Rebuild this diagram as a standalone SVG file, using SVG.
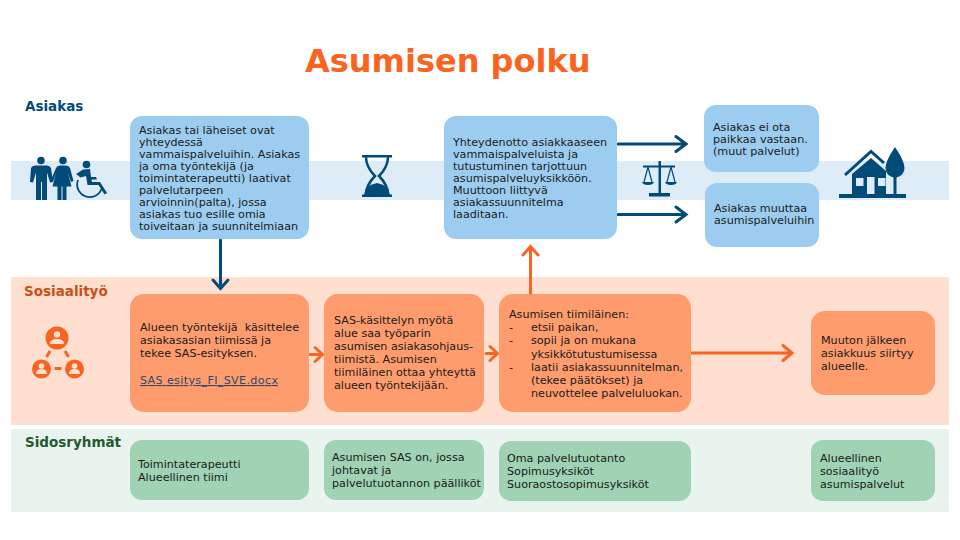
<svg xmlns="http://www.w3.org/2000/svg" width="960" height="540" viewBox="0 0 960 540">
<style>
text{font-family:"DejaVu Sans",Verdana,sans-serif;font-size:11.15px;fill:#1a1a1a}
.h{font-size:13.5px;font-weight:700}
.blue{fill:#9ccdf0}.or{fill:#ff9c6e}.gr{fill:#a0d2b4}
.a{fill:none;stroke-width:3;stroke-linejoin:miter;stroke-linecap:round}
.d{stroke:#004b78}.o{stroke:#fa6420}
.ic{fill:#004b78}.ico{fill:#fa6420}
</style>
<rect width="960" height="540" fill="#fff"/>
<g id="bands">
<rect x="11" y="161" width="938" height="39" fill="#deecf8"/>
<rect x="11" y="277" width="938" height="148" fill="#ffdfd0"/>
<rect x="11" y="429" width="938" height="83" fill="#e9f4ef"/>
</g>
<text id="title" x="305" y="72" style="font-size:32px;font-weight:700;fill:#fa6420">Asumisen polku</text>
<text id="lane-asiakas" class="h" x="25" y="111" style="fill:#004b78">Asiakas</text>
<text id="lane-sosiaalityo" class="h" x="24" y="296" style="fill:#c9501a">Sosiaalityö</text>
<text id="lane-sidosryhmat" class="h" x="25" y="447" style="fill:#235a2d">Sidosryhmät</text>
<g id="connectors">
<path class="a d" d="M220.500 240V288M213 280l7.500 8.500 7.500-8.500"/>
<path class="a o" d="M530.500 294V247M523 255l7.500-8.500 7.500 8.500"/>
<path class="a d" d="M618 144H686M676 136.500l10 7.500-10 7.500"/>
<path class="a d" d="M618 214.500H686M676 207l10 7.500-10 7.500"/>
<path class="a o" d="M310 354.500H322M315 347.500l7.500 7-7.500 7"/>
<path class="a o" d="M486 353.500H497M490 346.500l7.500 7-7.500 7"/>
<path class="a o" d="M692 353H792M783 345.500l9 7.500-9 7.500"/>
</g>
<g id="icon-people" class="ic">
<circle cx="41" cy="160.500" r="3.800"/>
<path d="M31 168q1-2.500 4-2.500h12q3 0 4 2.500l2 14-3 .5-3-10v27.500h-5v-18h-1v18h-5v-27.500l-3 10-3-.5z"/>
<circle cx="63" cy="160.500" r="3.800"/>
<path d="M56 168q1-2.500 4-2.500h6q3 0 4 2.500l3.500 13-2.500 1-3-9 3.500 13.500h-5v13.500h-4v-13.500h-1v13.500h-4v-13.500h-5l3.500-13.500-3 9-2.500-1z"/>
<circle cx="86.500" cy="164.500" r="3.800"/>
<path d="M76 174l7-4.500 7-.5 1 8h5l1 2.500h-5.500l.5 2.500h8l7 11-2.500 1.500-6-9.500h-11l-1.500-9-5.500 1.500z"/>
<path d="M78 180a12.500 12.500 0 1 0 23.500 9" fill="none" stroke="#004b78" stroke-width="1.800"/>
</g>
<g id="icon-hourglass" class="ic">
<rect x="362" y="155" width="30" height="2.500"/>
<rect x="362" y="194.500" width="30" height="2.500"/>
<path d="M366 157q0 10 9 19q-9 9-9 19" fill="none" stroke="#004b78" stroke-width="2.500"/>
<path d="M388 157q0 10-9 19q9 9 9 19" fill="none" stroke="#004b78" stroke-width="2.500"/>
<path d="M364 195l2-7q5-4 11-5q6 1 11 5l2 7z"/>
</g>
<g id="icon-scales" class="ic">
<rect x="658.500" y="161" width="2.500" height="32"/>
<rect x="643" y="165.500" width="32" height="2"/>
<rect x="649" y="193" width="21" height="3.500"/>
<path d="M642 182h12q-1 3-6 3t-6-3zM665 182h12q-1 3-6 3t-6-3z"/>
<path d="M648 167l-4 15M648 167l4 15M671 167l-4 15M671 167l4 15" stroke="#004b78" stroke-width="1.200" fill="none"/>
</g>
<g id="icon-house" class="ic">
<rect x="839" y="194" width="67" height="4"/>
<path d="M852 194v-20l19-16 15 13v23z"/>
<rect x="856" y="178" width="7.500" height="8" fill="#deecf8"/>
<rect x="867" y="177" width="7.500" height="17" fill="#deecf8"/>
<rect x="878" y="178" width="7.500" height="8" fill="#deecf8"/>
<path d="M845 175L871 151.500l13 11.500" fill="none" stroke="#004b78" stroke-width="3"/>
<path d="M895 147q9.500 14 9.500 21a9.500 9.500 0 0 1-8 9.500v16.500h-3v-16.500a9.500 9.500 0 0 1-8-9.500q0-7 9.500-21z"/>
</g>
<g id="icon-network" class="ico">
<circle cx="57" cy="338" r="11.500"/><circle cx="41.500" cy="369" r="9.500"/><circle cx="74.500" cy="369" r="9.500"/>
<circle cx="57" cy="334.500" r="3.200" fill="#ffdfd0"/><path d="M50 344q0-5 7-5t7 5z" fill="#ffdfd0"/>
<circle cx="41.500" cy="366" r="2.800" fill="#ffdfd0"/><path d="M36 374q0-5 5.500-5t5.500 5z" fill="#ffdfd0"/>
<circle cx="74.500" cy="366" r="2.800" fill="#ffdfd0"/><path d="M69 374q0-5 5.500-5t5.500 5z" fill="#ffdfd0"/>
<path d="M50 351l-3.500 6M65 351l3.500 6M54.500 368.500h7" stroke="#fa6420" stroke-width="3" fill="none"/>
</g>
<g id="box-blue-1"><rect class="blue" x="130" y="116" width="179" height="123" rx="12"/>
<text x="139" y="134">Asiakas tai läheiset ovat</text><text x="139" y="146">yhteydessä</text><text x="139" y="158">vammaispalveluihin. Asiakas</text><text x="139" y="170">ja oma työntekijä (ja</text><text x="139" y="182">toimintaterapeutti) laativat</text><text x="139" y="194">palvelutarpeen</text><text x="139" y="206">arvioinnin(palta), jossa</text><text x="139" y="218">asiakas tuo esille omia</text><text x="139" y="230">toiveitaan ja suunnitelmiaan</text></g>
<g id="box-blue-2"><rect class="blue" x="444" y="116" width="173" height="123" rx="12"/>
<text x="453" y="146">Yhteydenotto asiakkaaseen</text><text x="453" y="158">vammaispalveluista ja</text><text x="453" y="170">tutustuminen tarjottuun</text><text x="453" y="182">asumispalveluyksikköön.</text><text x="453" y="194">Muuttoon liittyvä</text><text x="453" y="206">asiakassuunnitelma</text><text x="453" y="218">laaditaan.</text></g>
<g id="box-blue-3"><rect class="blue" x="704" y="105" width="115" height="67" rx="12"/>
<text x="713" y="131">Asiakas ei ota</text><text x="713" y="143">paikkaa vastaan.</text><text x="713" y="155">(muut palvelut)</text></g>
<g id="box-blue-4"><rect class="blue" x="705" y="183" width="114" height="64" rx="12"/>
<text x="714" y="212">Asiakas muuttaa</text><text x="714" y="224">asumispalveluihin</text></g>
<g id="box-orange-1"><rect class="or" x="130" y="294" width="179" height="118" rx="14"/>
<text x="140" y="331" xml:space="preserve">Alueen työntekijä  käsittelee</text><text x="140" y="344">asiakasasian tiimissä ja</text><text x="140" y="357">tekee SAS-esityksen.</text><text x="140" y="384" textLength="138" style="fill:#2a4a6a;text-decoration:underline">SAS esitys_FI_SVE.docx</text></g>
<g id="box-orange-2"><rect class="or" x="324" y="294" width="160" height="118" rx="14"/>
<text x="334" y="324">SAS-käsittelyn myötä</text><text x="334" y="337">alue saa työparin</text><text x="334" y="350">asumisen asiakasohjaus-</text><text x="334" y="363">tiimistä. Asumisen</text><text x="334" y="376">tiimiläinen ottaa yhteyttä</text><text x="334" y="389">alueen työntekijään.</text></g>
<g id="box-orange-3"><rect class="or" x="499" y="294" width="192" height="118" rx="14"/>
<text x="509" y="318">Asumisen tiimiläinen:</text><text x="509" y="331">-</text><text x="531" y="331">etsii paikan,</text><text x="509" y="344">-</text><text x="531" y="344">sopii ja on mukana</text><text x="531" y="358">yksikkötutustumisessa</text><text x="509" y="371">-</text><text x="531" y="371">laatii asiakassuunnitelman,</text><text x="531" y="384">(tekee päätökset) ja</text><text x="531" y="397">neuvottelee palveluluokan.</text></g>
<g id="box-orange-4"><rect class="or" x="811" y="311" width="124" height="84" rx="14"/>
<text x="821" y="344">Muuton jälkeen</text><text x="821" y="357">asiakkuus siirtyy</text><text x="821" y="370">alueelle.</text></g>
<g id="box-green-1"><rect class="gr" x="130" y="440" width="179" height="60" rx="12"/>
<text x="138" y="468">Toimintaterapeutti</text><text x="138" y="481">Alueellinen tiimi</text></g>
<g id="box-green-2"><rect class="gr" x="324" y="440" width="160" height="60" rx="12"/>
<text x="332" y="461">Asumisen SAS on, jossa</text><text x="332" y="474">johtavat ja</text><text x="332" y="487">palvelutuotannon päälliköt</text></g>
<g id="box-green-3"><rect class="gr" x="499" y="441" width="192" height="60" rx="12"/>
<text x="507" y="462">Oma palvelutuotanto</text><text x="507" y="475">Sopimusyksiköt</text><text x="507" y="488">Suoraostosopimusyksiköt</text></g>
<g id="box-green-4"><rect class="gr" x="811" y="440" width="124" height="61" rx="12"/>
<text x="820" y="462">Alueellinen</text><text x="820" y="475">sosiaalityö</text><text x="820" y="488">asumispalvelut</text></g>
</svg>
